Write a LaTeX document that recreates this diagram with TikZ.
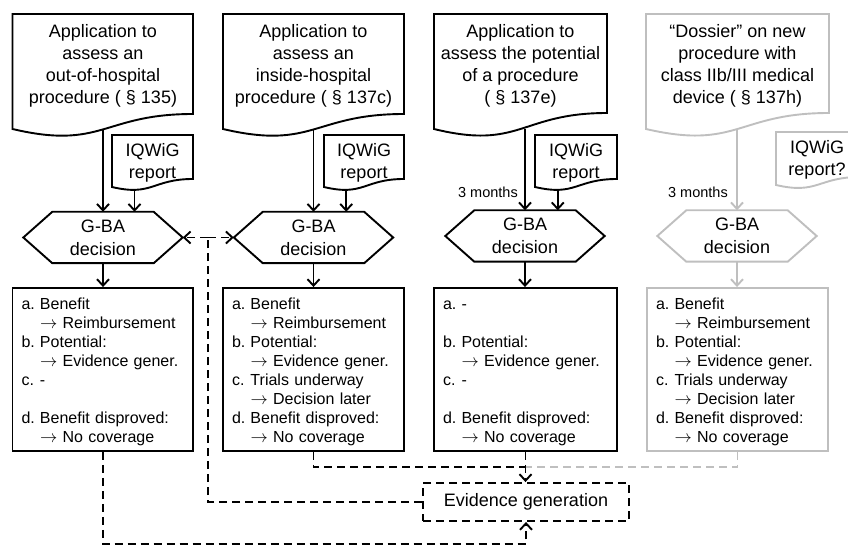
\documentclass[tikz,border=0pt]{standalone}
\usepackage{fontspec}
\setmainfont{Liberation Sans}
\usetikzlibrary{arrows.meta,calc}
\definecolor{lgray}{RGB}{191,191,191}
\newcommand\docshape[7]{%
  \pgfmathsetmacro\dxm{(#2+#3)/2}%
  \pgfmathsetmacro\dyc{#4+(#6-#4)*1.185}%
  \draw[#7] (#2,#4) -- (#3,#4) -- (#3,#5) .. controls (\dxm,#5) and (\dxm,\dyc) .. coordinate[pos=0.5] (#1-b) coordinate[pos=0.77] (#1-q) (#2,#6) -- cycle;
}
\newcommand\hexshape[2]{%
  \draw[#2] (#1.north west) -- (#1.north east) -- ($(#1.east)+(29,0)$) coordinate (#1-r) -- (#1.south east) -- (#1.south west) -- ($(#1.west)+(-29,0)$) coordinate (#1-l) -- cycle;
}
\newcommand\lowered[1]{\raisebox{-3pt}[\height][\depth]{#1}}
\tikzset{
  lw/.style={line width=1.9pt},
  shp/.style={lw, draw=black},
  gshp/.style={lw, draw=lgray},
  arr/.style={lw, -{Straight Barb[length=6.5pt,width=12pt]}},
  garr/.style={arr, draw=lgray},
  dl/.style={lw, dash pattern=on 8pt off 5pt},
  dla/.style={dl, -{Straight Barb[length=6.5pt,width=12pt]}},
  gdl/.style={dl, draw=lgray},
  doctext/.style={inner sep=0pt, align=center, font=\fontsize{18}{22}\selectfont},
  hexbox/.style={inner sep=0pt, minimum width=101pt, minimum height=51pt, align=center, font=\fontsize{18}{23}\selectfont},
  resbox/.style={lw, rectangle, minimum height=163pt, inner xsep=9pt, inner ysep=0pt, align=left, font=\fontsize{16}{19}\selectfont},
  monthlabel/.style={anchor=east, inner sep=0pt, font=\fontsize{14.5}{17}\selectfont},
  evidbox/.style={dl, draw=black, minimum width=206pt, minimum height=38pt, font=\fontsize{18}{22}\selectfont}
}
\begin{document}
\begin{tikzpicture}[x=1pt,y=-1pt]
\useasboundingbox (0,0) rectangle (848,553);
\clip (0,0) rectangle (848,553);
% ---- application documents
\node[doctext] (docA) at (103,66) {Application to\\assess an\\out-of-hospital\\procedure ( § 135)};
\docshape{docA}{12.5}{193}{14}{114}{129}{shp}
\node[doctext] (docB) at (313.5,66) {Application to\\assess an\\inside-hospital\\procedure ( § 137c)};
\docshape{docB}{223}{404}{14}{114}{129}{shp}
\node[doctext] (docC) at (520.5,66) {Application to\\assess the potential\\of a procedure\\( § 137e)};
\docshape{docC}{434}{607}{14}{113}{129}{shp}
\node[doctext] (docD) at (737.5,66) {“Dossier” on new\\procedure with\\class IIb/III medical\\device ( § 137h)};
\docshape{docD}{646}{829}{14}{113}{129}{gshp}
% ---- IQWiG reports
\node[doctext] (iqA) at (152.5,162.5) {IQWiG\\report};
\docshape{iqA}{112}{193}{135}{179}{187}{shp}
\node[doctext] (iqB) at (364,162.5) {IQWiG\\report};
\docshape{iqB}{324}{404}{135}{179}{187}{shp}
\node[doctext] (iqC) at (576,162.5) {IQWiG\\report};
\docshape{iqC}{535}{617}{135}{179}{187}{shp}
\node[doctext] (iqD) at (817,159.5) {IQWiG\\report?};
\docshape{iqD}{776}{860}{132}{177}{185}{gshp}
% ---- G-BA decisions
\node[hexbox] (hexA) at (103,237.5) {G-BA\\decision};
\hexshape{hexA}{shp}
\node[hexbox] (hexB) at (313.5,237.5) {G-BA\\decision};
\hexshape{hexB}{shp}
\node[hexbox] (hexC) at (525,236) {G-BA\\decision};
\hexshape{hexC}{shp}
\node[hexbox] (hexD) at (737,236) {G-BA\\decision};
\hexshape{hexD}{gshp}
% ---- result boxes
\node[resbox, draw=black, text width=162.5pt] (boxA) at (102.75,369.5) {\lowered{\begin{tabular}{@{}p{18.5pt}@{}l@{}}
a. & Benefit\\
 & $\rightarrow$ Reimbursement\\
b. & Potential:\\
 & $\rightarrow$ Evidence gener.\\
c. & -\\
 & \\
d. & Benefit disproved:\\
 & $\rightarrow$ No coverage
\end{tabular}}};
\node[resbox, draw=black, text width=163pt] (boxB) at (313.5,369.5) {\lowered{\begin{tabular}{@{}p{18.5pt}@{}l@{}}
a. & Benefit\\
 & $\rightarrow$ Reimbursement\\
b. & Potential:\\
 & $\rightarrow$ Evidence gener.\\
c. & Trials underway\\
 & $\rightarrow$ Decision later\\
d. & Benefit disproved:\\
 & $\rightarrow$ No coverage
\end{tabular}}};
\node[resbox, draw=black, text width=165pt] (boxC) at (525.5,369.5) {\lowered{\begin{tabular}{@{}p{18.5pt}@{}l@{}}
a. & -\\
 & \\
b. & Potential:\\
 & $\rightarrow$ Evidence gener.\\
c. & -\\
 & \\
d. & Benefit disproved:\\
 & $\rightarrow$ No coverage
\end{tabular}}};
\node[resbox, draw=lgray, text width=163pt] (boxD) at (737.5,369.5) {\lowered{\begin{tabular}{@{}p{18.5pt}@{}l@{}}
a. & Benefit\\
 & $\rightarrow$ Reimbursement\\
b. & Potential:\\
 & $\rightarrow$ Evidence gener.\\
c. & Trials underway\\
 & $\rightarrow$ Decision later\\
d. & Benefit disproved:\\
 & $\rightarrow$ No coverage
\end{tabular}}};
% ---- evidence generation
\node[evidbox] (evid) at (526,502) {Evidence generation};
% ---- month labels
\node[monthlabel] (monC) at ($(hexC.north)+(-7,-18)$) {3 months};
\node[monthlabel] (monD) at ($(hexD.north)+(-9,-18)$) {3 months};
% ---- solid connectors
\draw[arr] (hexA.north |- docA-b) -- (hexA.north);
\draw[arr] (hexB.north |- docB-b) -- (hexB.north);
\draw[arr] (hexC.north |- docC-b) -- (hexC.north);
\draw[garr] (hexD.north |- docD-b) -- (hexD.north);
\draw[arr] (iqA-q) -- (iqA-q |- hexA.north);
\draw[arr] (iqB-q) -- (iqB-q |- hexB.north);
\draw[arr] (iqC-q) -- (iqC-q |- hexC.north);
\draw[arr] (hexA.south) -- (hexA.south |- boxA.north);
\draw[arr] (hexB.south) -- (hexB.south |- boxB.north);
\draw[arr] (hexC.south) -- (hexC.south |- boxC.north);
\draw[garr] (hexD.south) -- (hexD.south |- boxD.north);
% ---- dashed connectors
\coordinate (lowrow) at (0,544);
\coordinate (midrow) at (0,467);
\coordinate (loopc) at (208,237.5);
\draw[gdl] (boxD.south) |- (evid.north |- midrow);
\draw[dl] (boxB.south) |- (evid.north |- midrow);
\draw[dla] (boxC.south) -- (boxC.south |- evid.north);
\draw[dla] (boxA.south) |- (evid.south |- lowrow) -- (evid.south);
\draw[dl] (evid.west) -| (loopc);
\draw[dla] (loopc) -- (hexA-r);
\draw[dla] (loopc) -- (hexB-l);
\end{tikzpicture}
\end{document}
